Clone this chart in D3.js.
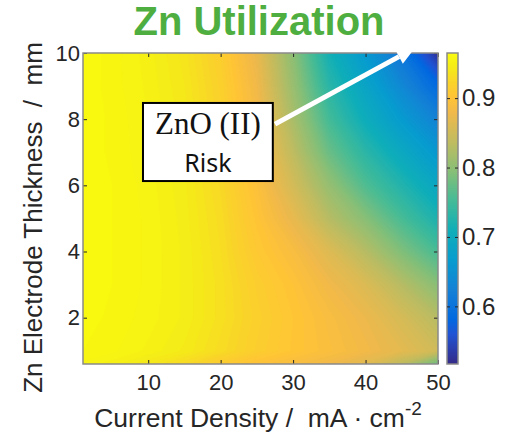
<!DOCTYPE html>
<html>
<head>
<meta charset="utf-8">
<script src="https://cdn.jsdelivr.net/npm/d3@7"></script>
<style>
  html, body { margin: 0; padding: 0; background: #fff; }
  svg { display: block; }
  text { font-family: "Liberation Sans", Arial, sans-serif; }
</style>
</head>
<body>
<div id="chart"></div>
<script>
// grid (current density x electrode thickness)
var xVals = [1, 5, 10, 15, 20, 25, 30, 35, 40, 45, 50];
var yVals = [0.6, 1, 2, 3, 4, 5, 6, 7, 8, 9, 10];
// one row per yVals entry, one column per xVals entry
var utilization = [
  [0.955, 0.950, 0.940, 0.928, 0.912, 0.898, 0.890, 0.880, 0.865, 0.835, 0.775],
  [0.960, 0.957, 0.951, 0.943, 0.930, 0.915, 0.903, 0.893, 0.882, 0.868, 0.850],
  [0.962, 0.959, 0.954, 0.947, 0.934, 0.918, 0.904, 0.890, 0.876, 0.855, 0.830],
  [0.962, 0.960, 0.955, 0.947, 0.934, 0.915, 0.900, 0.880, 0.860, 0.830, 0.795],
  [0.963, 0.960, 0.955, 0.947, 0.932, 0.908, 0.890, 0.862, 0.830, 0.790, 0.755],
  [0.963, 0.960, 0.955, 0.946, 0.930, 0.902, 0.872, 0.830, 0.795, 0.755, 0.720],
  [0.963, 0.960, 0.954, 0.945, 0.927, 0.896, 0.853, 0.805, 0.760, 0.725, 0.690],
  [0.963, 0.959, 0.953, 0.944, 0.924, 0.890, 0.836, 0.776, 0.733, 0.695, 0.660],
  [0.963, 0.959, 0.952, 0.942, 0.921, 0.885, 0.820, 0.752, 0.705, 0.665, 0.625],
  [0.963, 0.958, 0.951, 0.940, 0.919, 0.880, 0.808, 0.732, 0.685, 0.635, 0.585],
  [0.963, 0.958, 0.950, 0.938, 0.915, 0.873, 0.798, 0.713, 0.662, 0.605, 0.525]
];
var xTicks = [10, 20, 30, 40, 50];
var yTicks = [2, 4, 6, 8, 10];
var cTicks = [0.6, 0.7, 0.8, 0.9];
var cRange = [0.517, 0.965];

// parula colormap stops
var parulaPos = [0, 6, 9, 15, 21, 27, 33, 39, 45, 51, 54, 57, 60, 63].map(function(i) { return i / 63; });
var parulaCol = ["#352a87", "#2053d4", "#0268e1", "#1481d6", "#079ccf", "#0faeb9", "#42bb98",
  "#87bf77", "#c0bc60", "#f1b94a", "#ffc337", "#fad32a", "#f5eb18", "#f9fb0e"];

var W = 509, H = 433;
var plot = {left: 83, right: 438, top: 53, bottom: 364};
var cbar = {left: 447, right: 458};
var axisColor = "#8a8a8a", textColor = "#262626";

var svg = d3.select("#chart").append("svg").attr("width", W).attr("height", H);

var x = d3.scaleLinear().domain([1, 50]).range([plot.left, plot.right]);
var y = d3.scaleLinear().domain([0.6, 10]).range([plot.bottom, plot.top]);
var cy = d3.scaleLinear().domain(cRange).range([plot.bottom, plot.top]);
var color = d3.scaleLinear()
  .domain(parulaPos.map(function(t) { return cRange[0] + t * (cRange[1] - cRange[0]); }))
  .range(parulaCol)
  .clamp(true);

// filled contours
var nx = xVals.length, ny = yVals.length;
var flat = [];
utilization.forEach(function(row) { row.forEach(function(v) { flat.push(v); }); });
var levels = d3.range(0.50, 0.97, 0.004);
var contours = d3.contours().size([nx, ny]).thresholds(levels)(flat);

var gx = d3.scaleLinear().domain(d3.range(nx)).range(xVals).clamp(true);
var gy = d3.scaleLinear().domain(d3.range(ny)).range(yVals).clamp(true);
var proj = d3.geoTransform({
  point: function(px, py) {
    this.stream.point(x(gx(px - 0.5)), y(gy(py - 0.5)));
  }
});
var path = d3.geoPath(proj);

svg.append("clipPath").attr("id", "plotclip")
  .append("rect")
    .attr("x", plot.left).attr("y", plot.top)
    .attr("width", plot.right - plot.left).attr("height", plot.bottom - plot.top);

svg.append("g")
  .attr("clip-path", "url(#plotclip)")
  .selectAll("path")
  .data(contours).enter().append("path")
    .attr("d", path)
    .attr("fill", function(d) { return color(d.value + 0.002); })
    .attr("stroke", function(d) { return color(d.value + 0.002); })
    .attr("stroke-width", 0.3);

// axes (MATLAB style: ticks inside, box all round)
function styleAxis(g) {
  g.select(".domain").remove();
  g.selectAll(".tick line").attr("stroke", textColor).attr("stroke-width", 1);
  g.selectAll(".tick text").attr("fill", textColor).style("font-size", "22px")
    .style("font-family", "'Liberation Sans', Arial, sans-serif");
}

svg.append("g")
  .attr("transform", "translate(0," + plot.bottom + ")")
  .call(d3.axisBottom(x).tickValues(xTicks).tickSize(-4).tickPadding(10).tickFormat(d3.format("d")))
  .call(styleAxis);
svg.append("g")
  .attr("transform", "translate(0," + plot.top + ")")
  .call(d3.axisTop(x).tickValues(xTicks).tickSize(-4).tickFormat(""))
  .call(styleAxis);
svg.append("g")
  .attr("transform", "translate(" + plot.left + ",0)")
  .call(d3.axisLeft(y).tickValues(yTicks).tickSize(-4).tickPadding(3).tickFormat(d3.format("d")))
  .call(styleAxis);
svg.append("g")
  .attr("transform", "translate(" + plot.right + ",0)")
  .call(d3.axisRight(y).tickValues(yTicks).tickSize(-4).tickFormat(""))
  .call(styleAxis);

svg.append("rect")
  .attr("x", plot.left).attr("y", plot.top)
  .attr("width", plot.right - plot.left).attr("height", plot.bottom - plot.top)
  .attr("fill", "none").attr("stroke", axisColor).attr("stroke-width", 1.5);

// colorbar
var grad = svg.append("defs").append("linearGradient")
  .attr("id", "cbgrad").attr("x1", 0).attr("y1", 1).attr("x2", 0).attr("y2", 0);
grad.selectAll("stop").data(parulaPos).enter().append("stop")
  .attr("offset", function(d) { return d; })
  .attr("stop-color", function(d, i) { return parulaCol[i]; });

svg.append("rect")
  .attr("x", cbar.left).attr("y", plot.top)
  .attr("width", cbar.right - cbar.left).attr("height", plot.bottom - plot.top)
  .attr("fill", "url(#cbgrad)").attr("stroke", axisColor).attr("stroke-width", 1.5);

svg.append("g")
  .attr("transform", "translate(" + cbar.right + ",0)")
  .call(d3.axisRight(cy).tickValues(cTicks).tickSize(-3).tickPadding(4).tickFormat(d3.format(".1f")))
  .call(styleAxis)
  .selectAll(".tick text").style("font-size", "24px");
svg.append("g")
  .attr("transform", "translate(" + cbar.left + ",0)")
  .call(d3.axisLeft(cy).tickValues(cTicks).tickSize(-3).tickFormat(""))
  .call(styleAxis);

// labels
svg.append("text")
  .attr("x", 258).attr("y", 427)
  .attr("text-anchor", "middle")
  .attr("fill", textColor)
  .style("font-size", "26.5px")
  .style("white-space", "pre")
  .text("Current Density /  mA \u00b7 cm")
  .append("tspan").attr("dy", -12).style("font-size", "19px").text("-2");

svg.append("text")
  .attr("transform", "translate(42," + ((plot.top + plot.bottom) / 2 + 9) + ") rotate(-90)")
  .attr("text-anchor", "middle")
  .attr("fill", textColor)
  .style("font-size", "26px")
  .style("white-space", "pre")
  .text("Zn Electrode Thickness  /  mm");

svg.append("text")
  .attr("x", 259).attr("y", 35)
  .attr("text-anchor", "middle")
  .attr("fill", "#4fae40")
  .style("font-size", "40px")
  .style("font-weight", "bold")
  .text("Zn Utilization");

// annotation: ZnO (II) risk
var boxTL = [9.28, 8.49], boxBR = [27.2, 6.13];
var arrowFrom = [27.5, 7.85], arrowTo = [46.8, 10.15];

var p0 = [x(arrowFrom[0]), y(arrowFrom[1])], p1 = [x(arrowTo[0]), y(arrowTo[1])];
var dx = p1[0] - p0[0], dy = p1[1] - p0[1], len = Math.sqrt(dx * dx + dy * dy);
var ux = dx / len, uy = dy / len, headL = 18, headW = 8;
var base = [p1[0] - ux * headL, p1[1] - uy * headL];
svg.append("line")
  .attr("x1", p0[0]).attr("y1", p0[1])
  .attr("x2", base[0]).attr("y2", base[1])
  .attr("stroke", "#fff").attr("stroke-width", 5);
svg.append("polygon")
  .attr("points", [p1, [base[0] - uy * headW, base[1] + ux * headW], [base[0] + uy * headW, base[1] - ux * headW]]
    .map(function(p) { return p.join(","); }).join(" "))
  .attr("fill", "#fff");

var bx0 = x(boxTL[0]), by0 = y(boxTL[1]), bx1 = x(boxBR[0]), by1 = y(boxBR[1]);
svg.append("rect")
  .attr("x", bx0).attr("y", by0).attr("width", bx1 - bx0).attr("height", by1 - by0)
  .attr("fill", "#fff").attr("stroke", "#000").attr("stroke-width", 2);
svg.append("text")
  .attr("x", (bx0 + bx1) / 2).attr("y", by0 + 31)
  .attr("text-anchor", "middle")
  .style("font-family", "'Liberation Serif', 'Times New Roman', serif")
  .style("font-size", "31px")
  .attr("fill", "#111")
  .text("ZnO (II)");
svg.append("text")
  .attr("x", (bx0 + bx1) / 2).attr("y", by0 + 69)
  .attr("text-anchor", "middle")
  .style("font-family", "'Noto Sans', 'Open Sans', sans-serif")
  .style("font-size", "25px")
  .attr("fill", "#111")
  .text("Risk");
</script>
</body>
</html>
